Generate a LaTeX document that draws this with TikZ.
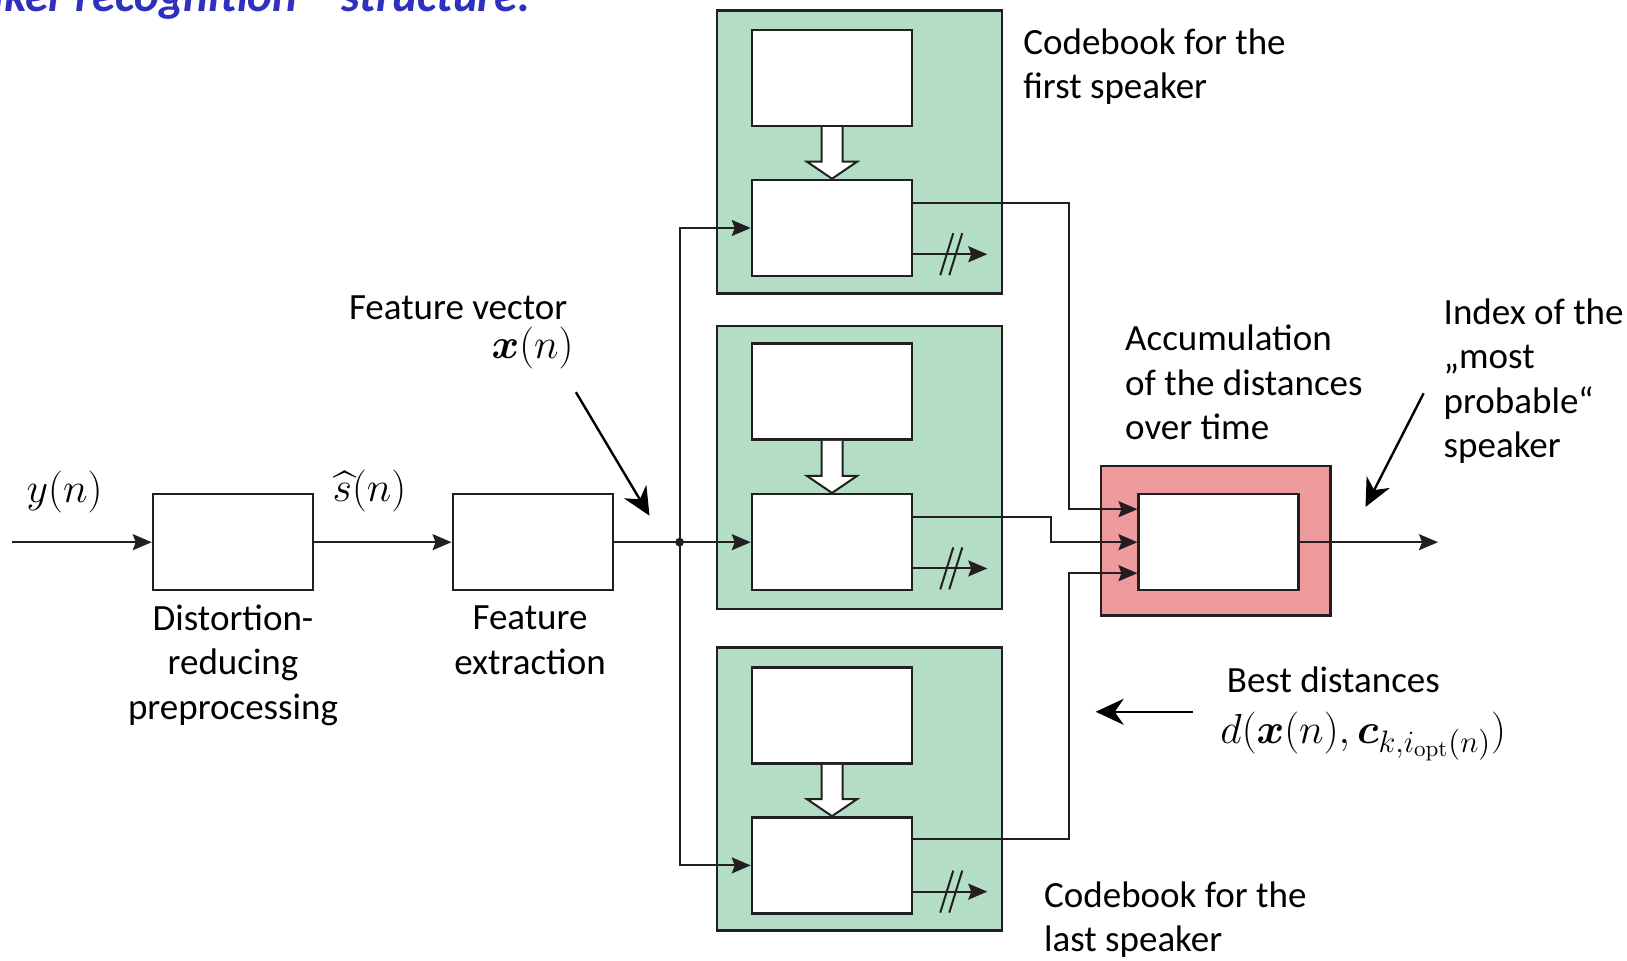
\RequirePackage{fix-cm}
\documentclass[tikz,border=0pt]{standalone}
\usepackage{amsmath}
\usepackage[no-math]{fontspec}
\setmainfont{Carlito}
\usetikzlibrary{arrows.meta,calc}
\DeclareMathSizes{21}{21}{15.5}{11.5}

\definecolor{ln}{RGB}{35,31,32}
\definecolor{cbgreen}{RGB}{179,222,197}
\definecolor{accred}{RGB}{238,155,158}
\definecolor{titleblue}{RGB}{48,48,190}

\tikzset{
  lbl/.style={font=\fontsize{18.5pt}{22.25pt}\selectfont, inner sep=0pt},
  mth/.style={font=\fontsize{21}{25}\selectfont, inner sep=0pt},
  wbox/.style={draw=ln, line width=1.25pt, fill=white, minimum width=80pt,
    minimum height=48pt, inner sep=0pt},
  cbbox/.style={draw=ln, line width=1.25pt, fill=cbgreen, minimum width=142.5pt,
    minimum height=141.6pt, inner sep=0pt},
  accbox/.style={draw=ln, line width=1.25pt, fill=accred, minimum width=114.75pt,
    minimum height=74.75pt, inner sep=0pt},
  sig/.style={draw=ln, line width=1pt, -{Stealth[length=9.5pt,width=8pt,inset=1.5pt]}},
  wire/.style={draw=ln, line width=1pt},
  pointer/.style={draw=black, line width=1.2pt, -{Stealth[length=14pt,width=13pt,inset=4.5pt]}},
  hollow/.style={draw=ln, line width=1pt, fill=white, line join=miter},
  hashmark/.style={draw=ln, line width=1pt},
}

% hollow block arrow from the bottom of one box to the top of the next
\newcommand{\hollowdown}[2]{%
  \draw[hollow] ($(#1)+(-10.5,0)$) -- ($(#2)+(-10.5,-17)$) -- ($(#2)+(-25,-17)$)
    -- (#2) -- ($(#2)+(25,-17)$) -- ($(#2)+(10.5,-17)$) -- ($(#1)+(10.5,0)$);}

% double slash across a bus line
\newcommand{\busmark}[1]{%
  \draw[hashmark] ($(#1)+(27,21)$) -- ($(#1)+(40,-21)$);
  \draw[hashmark] ($(#1)+(36,21)$) -- ($(#1)+(49,-21)$);}

\begin{document}
\begin{tikzpicture}[x=0.5pt,y=-0.5pt]
\useasboundingbox (0,0) rectangle (1627,961);

% slide heading, cut at the upper edge
\begin{scope}
  \clip (0,0) rectangle (1627,961);
  \node[anchor=base east, inner sep=0pt, text=titleblue,
    font=\fontsize{23.5pt}{28pt}\selectfont\bfseries\itshape] (title) at (531,12)
    {Speaker recognition – structure:};
\end{scope}

% front end
\node[wbox] (pre) at (233,542.2) {};
\node[wbox] (fe) at (532.8,542.2) {};

% codebook blocks
\node[cbbox] (gA) at (859.5,152) {};
\node[cbbox] (gB) at (859.5,467.5) {};
\node[cbbox] (gC) at (859.5,789.1) {};
\node[wbox] (tA) at (832,78) {};
\node[wbox] (bA) at (832,228) {};
\node[wbox] (tB) at (832,391.7) {};
\node[wbox] (bB) at (832,542.2) {};
\node[wbox] (tC) at (832,715.5) {};
\node[wbox] (bC) at (832,865.4) {};
\hollowdown{tA.south}{bA.north}
\hollowdown{tB.south}{bB.north}
\hollowdown{tC.south}{bC.north}

% accumulation block
\node[accbox] (acc) at (1215.7,540.7) {};
\node[wbox] (accin) at (1218.7,542.2) {};

% signal path
\coordinate (in) at (12,542.2);
\coordinate (j) at (679.6,542.2);
\coordinate (out) at (1438,542.2);
\draw[sig] (in) -- (pre.west);
\draw[sig] (pre.east) -- (fe.west);
\draw[wire] (fe.east) -- (j);
\draw[sig] (j) |- (bA.west);
\draw[sig] (j) -- (bB.west);
\draw[sig] (j) |- (bC.west);
\fill[ln] (j) circle (2.2pt);

% best distances into the accumulator
\draw[sig] ($(bA.north east)+(0,24)$) -| ($(accin.west)+(-68,-33)$) -- ($(accin.west)+(0,-33)$);
\draw[sig] ($(bB.north east)+(0,24)$) -| ($(accin.west)+(-86,0)$) -- (accin.west);
\draw[sig] ($(bC.north east)+(0,23)$) -| ($(accin.west)+(-68,31)$) -- ($(accin.west)+(0,31)$);
\draw[sig] (accin.east) -- (out);

% index outputs of the quantisers
\draw[sig] ($(bA.south east)+(0,-23)$) -- ++(74,0);
\draw[sig] ($(bB.south east)+(0,-23)$) -- ++(74,0);
\draw[sig] ($(bC.south east)+(0,-23)$) -- ++(74,0);
\busmark{$(bA.south east)+(0,-23)$}
\busmark{$(bB.south east)+(0,-23)$}
\busmark{$(bC.south east)+(0,-23)$}

% signal names
\node[mth, anchor=base] (yn) at (64.5,503) {$y(n)$};
\node[mth, anchor=base] (sn) at (369.5,502) {$\widehat{s}(n)$};
\node[lbl, anchor=base west] (fvec) at (348.6,319.6) {Feature vector};
\node[mth, anchor=base east] (xn) at (574,359) {$\boldsymbol{x}(n)$};
\coordinate (fvA) at (575.9,392.2);
\coordinate (fvB) at (649.5,515.7);
\draw[pointer] (fvA) -- (fvB);

% block captions (base = baseline of the last line)
\node[lbl, anchor=base, align=center] (prelbl) at (233,719) {Distortion-\\reducing\\preprocessing};
\node[lbl, anchor=base, align=center] (felbl) at (530,674.5) {Feature\\extraction};
\node[lbl, anchor=base west, align=left] (cbfirst) at (1023,98.6) {Codebook for the\\first speaker};
\node[lbl, anchor=base west, align=left] (acclbl) at (1124.8,440) {Accumulation\\of the distances\\over time};
\node[lbl, anchor=base west, align=left] (idx) at (1443.3,457.6) {Index of the\\„most\\probable“\\speaker};
\node[lbl, anchor=base west, align=left] (cblast) at (1043.8,951.5) {Codebook for the\\last speaker};
\coordinate (idxA) at (1423.6,393.3);
\coordinate (idxB) at (1365.5,507);
\draw[pointer] (idxA) -- (idxB);

% best distance annotation
\node[lbl, anchor=base west] (best) at (1226.5,693) {Best distances};
\node[mth, anchor=base west] (dist) at (1220,743.5)
  {$d(\boldsymbol{x}(n),\boldsymbol{c}_{k,i_{\mathrm{opt}}(n)})$};
\coordinate (bdA) at (1193.2,711.8);
\coordinate (bdB) at (1095.7,711.8);
\draw[pointer] (bdA) -- (bdB);
\end{tikzpicture}
\end{document}
